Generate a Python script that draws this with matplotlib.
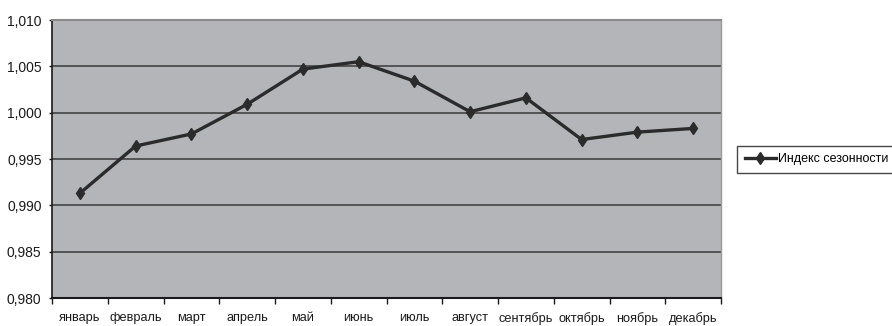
import matplotlib.pyplot as plt
from matplotlib.ticker import FixedLocator, FuncFormatter

# Индекс сезонности по месяцам
months = ['январь', 'февраль', 'март', 'апрель', 'май', 'июнь',
          'июль', 'август', 'сентябрь', 'октябрь', 'ноябрь', 'декабрь']
season_index = [0.9913, 0.9964, 0.9977, 1.0009, 1.0047, 1.0055,
                1.0034, 1.0001, 1.0016, 0.9971, 0.9979, 0.9983]
y_ticks = [0.980, 0.985, 0.990, 0.995, 1.000, 1.005, 1.010]

plt.rcParams['font.family'] = ['Liberation Sans', 'DejaVu Sans']

fig = plt.figure(figsize=(8.92, 3.26), dpi=100)
ax = fig.add_axes([52 / 892, 1 - 298 / 326, (721 - 52) / 892, (298 - 20) / 326])
ax.set_facecolor('#b4b5b9')

x = list(range(len(months)))
line, = ax.plot(x, season_index, color='#2b2b2b', linewidth=2.4,
                marker='d', markersize=6, markerfacecolor='#2b2b2b',
                markeredgecolor='#2b2b2b', label='Индекс сезонности', zorder=3)

ax.set_xlim(-0.5, len(months) - 0.5)
ax.set_ylim(y_ticks[0], y_ticks[-1])

# подписи месяцев по центру, засечки на границах категорий
ax.set_xticks(x)
ax.set_xticklabels(months, fontsize=9.2)
ax.xaxis.set_minor_locator(FixedLocator([i - 0.5 for i in range(len(months) + 1)]))
ax.tick_params(axis='x', which='major', length=0, pad=10, colors='#1a1a1a')
ax.tick_params(axis='x', which='minor', length=4, width=1, color='#1a1a1a', direction='out')

ax.set_yticks(y_ticks)
ax.yaxis.set_major_formatter(FuncFormatter(lambda v, p: f'{v:.3f}'.replace('.', ',')))
ax.tick_params(axis='y', length=2.5, width=1, pad=5, labelsize=10, colors='#1a1a1a')

ax.grid(axis='y', color='#3a3a3a', linewidth=1.1)
ax.set_axisbelow(True)

ax.spines['left'].set_color('#1a1a1a')
ax.spines['bottom'].set_color('#1a1a1a')
ax.spines['left'].set_linewidth(1.2)
ax.spines['bottom'].set_linewidth(1.5)
ax.spines['top'].set_color('#8a8a8a')
ax.spines['top'].set_linewidth(1.5)
ax.spines['right'].set_color('#9a9a9a')
ax.spines['right'].set_linewidth(1)

leg = fig.legend(handles=[line], loc='center left',
                 bbox_to_anchor=(737 / 892, 1 - 159 / 326),
                 frameon=True, fancybox=False, edgecolor='#1a1a1a',
                 handlelength=2.5, handletextpad=0.15, borderpad=0.6,
                 borderaxespad=0, fontsize=9)
leg.get_frame().set_linewidth(1)

fig.savefig('out.png', dpi=100)
